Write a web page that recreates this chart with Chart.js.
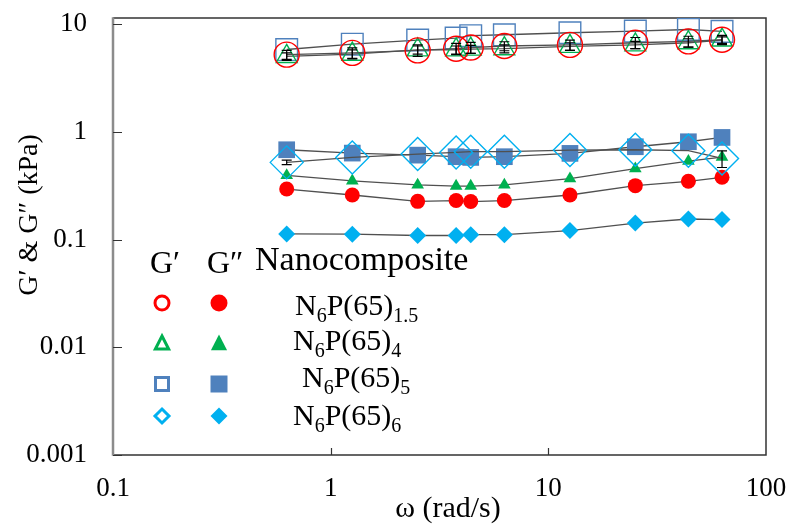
<!DOCTYPE html>
<html>
<head>
<meta charset="utf-8">
<script src="https://cdn.jsdelivr.net/npm/chart.js@4/dist/chart.umd.min.js"></script>
<style>
  html, body { margin: 0; padding: 0; background: #fff; }
  #wrap { width: 789px; height: 526px; }
</style>
</head>
<body>
<div id="wrap"><canvas id="modulus-chart" width="789" height="526"></canvas></div>
<script>
// angular frequency (rad/s)
const omega = [0.628, 1.257, 2.51, 3.77, 4.40, 6.28, 12.57, 25.1, 44.0, 62.8];

// storage modulus G' (kPa)
const storage15 = [5.2, 5.4, 5.7, 5.9, 6.05, 6.25, 6.4, 6.7, 6.9, 7.15];
const storage4  = [5.0, 5.25, 5.75, 5.75, 5.85, 5.9, 6.2, 6.4, 6.7, 7.1];
const storage5  = [5.8, 6.5, 7.1, 7.4, 7.8, 7.95, 8.3, 8.6, 8.9, 8.55];
const storage6  = [0.52, 0.578, 0.621, 0.643, 0.653, 0.653, 0.676, 0.681, 0.667, 0.566];

// loss modulus G'' (kPa)
const loss15 = [0.294, 0.259, 0.226, 0.230, 0.225, 0.230, 0.259, 0.316, 0.347, 0.378];
const loss4  = [0.393, 0.350, 0.321, 0.313, 0.313, 0.321, 0.367, 0.454, 0.533, 0.583];
const loss5  = [0.681, 0.634, 0.607, 0.587, 0.578, 0.587, 0.630, 0.726, 0.808, 0.886];
const loss6  = [0.1127, 0.112, 0.109, 0.109, 0.111, 0.111, 0.121, 0.142, 0.155, 0.153];

// error bars (half width, kPa)
const err15 = [0.5, 0.6, 0.7, 0.7, 0.7, 0.6, 0.7, 0.8, 0.8, 0.7];
const err4  = [0.4, 0.5, 0.5, 0.5, 0.5, 0.5, 0.5, 0.5, 0.6, 0.5];
const err6  = [0.025, 0, 0, 0, 0, 0, 0, 0, 0, 0.1];

const xTicks = [0.1, 1, 10, 100];
const xTickLabels = ['0.1', '1', '10', '100'];
const yTicks = [0.001, 0.01, 0.1, 1, 10];
const yTickLabels = ['0.001', '0.01', '0.1', '1', '10'];

const samples = ['1.5', '4', '5', '6'];

const RED = '#ff0000';
const GREEN = '#00b050';
const BLUE = '#4f81bd';
const CYAN = '#00b0f0';
const LINE = '#505050';
const SERIF = '"Liberation Serif", "Times New Roman", serif';

function pts(ys) {
    return omega.map((x, i) => ({ x: x, y: ys[i] }));
}

function series(label, ys, style, color, radius, open, errors) {
    return {
        label: label,
        data: pts(ys),
        errors: errors,
        showLine: true,
        borderColor: LINE,
        borderWidth: 1.3,
        pointStyle: style,
        pointRadius: radius,
        pointHoverRadius: radius,
        pointBorderColor: color,
        pointBackgroundColor: open ? 'rgba(0,0,0,0)' : color,
        pointBorderWidth: open ? 1.4 : 0,
        fill: false
    };
}

const datasets = [
    series("G' 1.5", storage15, 'circle', RED, 12.5, true, err15),
    series("G' 4", storage4, 'triangle', GREEN, 12, true, err4),
    series("G' 5", storage5, 'rect', BLUE, 15.3, true),
    series("G' 6", storage6, 'rectRot', CYAN, 16.5, true, err6),
    series("G'' 1.5", loss15, 'circle', RED, 7.5, false),
    series("G'' 4", loss4, 'triangle', GREEN, 7.3, false),
    series("G'' 5", loss5, 'rect', BLUE, 11.8, false),
    series("G'' 6", loss6, 'rectRot', CYAN, 8.5, false)
];

// frame + inward ticks
const framePlugin = {
    id: 'frame',
    beforeDatasetsDraw(chart) {
        const ctx = chart.ctx;
        const a = chart.chartArea;
        const xs = chart.scales.x, ys = chart.scales.y;
        ctx.save();
        ctx.strokeStyle = '#333';
        ctx.lineWidth = 1.5;
        ctx.beginPath();
        ctx.moveTo(a.left, a.top); ctx.lineTo(a.right, a.top);
        ctx.lineTo(a.right, a.bottom); ctx.lineTo(a.left, a.bottom);
        ctx.stroke();
        ctx.strokeStyle = '#8c8c8c';
        ctx.lineWidth = 2.5;
        ctx.beginPath();
        ctx.moveTo(a.left, a.top - 0.75); ctx.lineTo(a.left, a.bottom + 0.75);
        ctx.stroke();
        ctx.strokeStyle = '#333';
        ctx.lineWidth = 1.2;
        ctx.beginPath();
        for (const v of yTicks) {
            const y = Math.round(ys.getPixelForValue(v)) + 0.5;
            ctx.moveTo(a.left, y); ctx.lineTo(a.left + 9, y);
        }
        for (const v of xTicks.slice(1, -1)) {
            const x = Math.round(xs.getPixelForValue(v)) + 0.5;
            ctx.moveTo(x, a.bottom); ctx.lineTo(x, a.bottom - 7);
        }
        ctx.stroke();
        ctx.restore();
    }
};

const errorBarPlugin = {
    id: 'errorBars',
    afterDatasetsDraw(chart) {
        const ctx = chart.ctx;
        const ys = chart.scales.y;
        ctx.save();
        ctx.strokeStyle = '#000';
        ctx.lineWidth = 1.2;
        chart.data.datasets.forEach((ds, i) => {
            if (!ds.errors) return;
            const meta = chart.getDatasetMeta(i);
            ds.data.forEach((p, j) => {
                const e = ds.errors[j];
                if (!e) return;
                const x = meta.data[j].x;
                const y1 = ys.getPixelForValue(p.y + e);
                const y2 = ys.getPixelForValue(p.y - e);
                ctx.beginPath();
                ctx.moveTo(x, y1); ctx.lineTo(x, y2);
                ctx.moveTo(x - 5, y1); ctx.lineTo(x + 5, y1);
                ctx.moveTo(x - 5, y2); ctx.lineTo(x + 5, y2);
                ctx.stroke();
            });
        });
        ctx.restore();
    }
};

function marker(ctx, style, x, y, r, color, open) {
    ctx.beginPath();
    if (style === 'circle') {
        ctx.arc(x, y, r, 0, Math.PI * 2);
    } else if (style === 'triangle') {
        ctx.moveTo(x, y - r);
        ctx.lineTo(x + r * 0.95, y + r * 0.85);
        ctx.lineTo(x - r * 0.95, y + r * 0.85);
        ctx.closePath();
    } else if (style === 'rect') {
        ctx.rect(x - r, y - r, 2 * r, 2 * r);
    } else {
        ctx.moveTo(x, y - r); ctx.lineTo(x + r, y);
        ctx.lineTo(x, y + r); ctx.lineTo(x - r, y);
        ctx.closePath();
    }
    if (open) {
        ctx.strokeStyle = color;
        ctx.lineWidth = 3;
        ctx.stroke();
    } else {
        ctx.fillStyle = color;
        ctx.fill();
    }
}

function sampleName(ctx, x, y, sub) {
    ctx.textAlign = 'left';
    ctx.textBaseline = 'alphabetic';
    const big = '30px ' + SERIF, small = '20px ' + SERIF;
    ctx.font = big; ctx.fillText('N', x, y); x += ctx.measureText('N').width;
    ctx.font = small; ctx.fillText('6', x, y + 7); x += ctx.measureText('6').width;
    ctx.font = big; ctx.fillText('P(65)', x, y); x += ctx.measureText('P(65)').width;
    ctx.font = small; ctx.fillText(sub, x, y + 7);
}

// legend block and axis titles
const labelPlugin = {
    id: 'labels',
    afterDraw(chart) {
        const ctx = chart.ctx;
        ctx.save();
        ctx.fillStyle = '#000';
        ctx.textBaseline = 'alphabetic';
        ctx.textAlign = 'left';
        ctx.font = '32px ' + SERIF;
        ctx.fillText('G\u2032', 150, 273);
        ctx.fillText('G\u2033', 207, 273);
        ctx.font = '34px ' + SERIF;
        ctx.fillText('Nanocomposite', 255, 270);
        const styles = ['circle', 'triangle', 'rect', 'rectRot'];
        const colors = [RED, GREEN, BLUE, CYAN];
        const rowY = [303, 343, 384, 416];
        const textX = [295, 293, 302, 293];
        const baseY = [315, 350, 387, 425];
        for (let i = 0; i < 4; i++) {
            const ro = styles[i] === 'rect' ? 6.5 : 7;
            marker(ctx, styles[i], 162, rowY[i], ro, colors[i], true);
            marker(ctx, styles[i], 219, rowY[i], 8.5, colors[i], false);
            ctx.fillStyle = '#000';
            sampleName(ctx, textX[i], baseY[i], samples[i]);
        }
        // axis titles
        ctx.font = '30px ' + SERIF;
        ctx.textAlign = 'center';
        ctx.textBaseline = 'middle';
        ctx.fillText('\u03c9 (rad/s)', 448, 509);
        ctx.font = '28px ' + SERIF;
        ctx.translate(30, 215);
        ctx.rotate(-Math.PI / 2);
        ctx.fillText('G\u2032 & G\u2033 (kPa)', 0, 0);
        ctx.restore();
    }
};

const tickFont = { family: SERIF, size: 27 };

new Chart(document.getElementById('modulus-chart').getContext('2d'), {
    type: 'scatter',
    data: { datasets: datasets },
    options: {
        responsive: false,
        animation: false,
        devicePixelRatio: 1,
        layout: { padding: { top: 15, right: 23, left: 0, bottom: 0 } },
        plugins: {
            legend: { display: false },
            tooltip: { enabled: false }
        },
        scales: {
            x: {
                type: 'logarithmic',
                min: 0.1,
                max: 100,
                grid: { display: false, drawTicks: false },
                border: { display: false },
                afterBuildTicks: s => { s.ticks = xTicks.map(v => ({ value: v })); },
                afterFit: s => { s.height = 71; s.paddingLeft = 0; s.paddingRight = 0; },
                ticks: {
                    autoSkip: false,
                    maxRotation: 0,
                    padding: 18,
                    color: '#000',
                    font: tickFont,
                    callback: v => xTickLabels[xTicks.indexOf(v)]
                }
            },
            y: {
                type: 'logarithmic',
                min: 0.001,
                max: 11.4,
                grid: { display: false, drawTicks: false },
                border: { display: false },
                afterBuildTicks: s => { s.ticks = yTicks.map(v => ({ value: v })); },
                afterFit: s => { s.width = 113; s.paddingTop = 0; s.paddingBottom = 0; },
                ticks: {
                    autoSkip: false,
                    padding: 26,
                    color: '#000',
                    font: tickFont,
                    callback: v => yTickLabels[yTicks.indexOf(v)]
                }
            }
        }
    },
    plugins: [framePlugin, errorBarPlugin, labelPlugin]
});
</script>
</body>
</html>
